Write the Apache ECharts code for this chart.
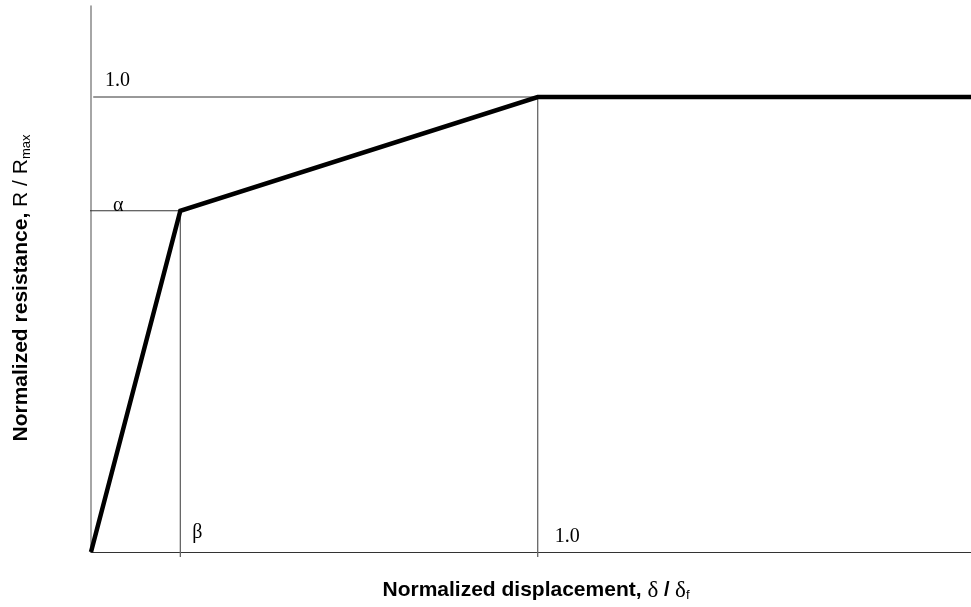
<!DOCTYPE html>
<html>
<head>
<meta charset="utf-8">
<script src="https://cdn.jsdelivr.net/npm/echarts@6/dist/echarts.min.js"></script>
<style>html,body{margin:0;padding:0;background:#fff}#c{width:971px;height:607px}</style>
</head>
<body>
<div id="c"></div>
<script>
// Data
const curveX = [0, 0.2, 1.0, 1.97];
const curveY = [0, 0.75, 1.0, 1.0];
const alphaVal = 0.75;
const betaVal = 0.2;
const refH1 = [[0.005, 1.0], [1.0, 1.0]];
const refHAlpha = [[-0.009, alphaVal], [betaVal, alphaVal]];
const refVBeta = [[betaVal, alphaVal], [betaVal, -0.011]];
const refV1 = [[1.0, 1.0], [1.0, -0.011]];
const labelTexts = ['1.0', 'α', 'β', '1.0'];
const labelPoints = [[0, 1.0], [0, alphaVal], [betaVal, 0], [1.0, 0]];

const labelOffsets = [[14, -16], [22, -5], [12, -19], [17, -15]];

const chart = echarts.init(document.getElementById('c'), null, {renderer: 'canvas'});
const serif = '"Liberation Serif", "DejaVu Serif", serif';
const sans = '"Liberation Sans", Arial, sans-serif';

function seg(pts, color, width) {
  return {
    type: 'line', data: pts, symbol: 'none', clip: false, silent: true,
    lineStyle: {color: color, width: width}, z: 1
  };
}

const option = {
  animation: false,
  grid: {left: 91, right: 0, top: 6, bottom: 54},
  xAxis: {
    type: 'value', min: 0, max: 1.97,
    axisLine: {show: true, lineStyle: {color: '#333', width: 1.2}},
    axisTick: {show: false}, axisLabel: {show: false}, splitLine: {show: false},
    name: '{b|Normalized displacement, }{s|δ }{b2|/ }{s|δ}{sub|f}',
    nameLocation: 'middle', nameGap: 27,
    nameTextStyle: {
      padding: [0, 0, 0, 10],
      rich: {
        b: {fontFamily: sans, fontWeight: 'bold', fontSize: 21, color: '#000'},
        b2: {fontFamily: sans, fontWeight: 'bold', fontSize: 20, color: '#000'},
        s: {fontFamily: serif, fontSize: 23, color: '#000'},
        sub: {fontFamily: sans, fontSize: 13, color: '#000', padding: [10, 0, 0, 0]}
      }
    }
  },
  yAxis: {
    type: 'value', min: 0, max: 1.2,
    axisLine: {show: true, lineStyle: {color: '#888', width: 1.5}},
    axisTick: {show: false}, axisLabel: {show: false}, splitLine: {show: false},
    name: '{b|Normalized resistance, }{r|R / R}{sub|max}',
    nameLocation: 'middle', nameGap: 58, nameRotate: 90,
    nameTextStyle: {
      padding: [0, 18, 0, 0],
      rich: {
        b: {fontFamily: sans, fontWeight: 'bold', fontSize: 21, color: '#000'},
        r: {fontFamily: sans, fontSize: 21, color: '#000'},
        sub: {fontFamily: sans, fontSize: 13, color: '#000', padding: [10, 0, 0, 0]}
      }
    }
  },
  series: [
    seg(refH1, '#333', 1),
    seg(refHAlpha, '#333', 1),
    seg(refVBeta, '#666', 1.3),
    seg(refV1, '#666', 1.3),
    {
      type: 'line', data: curveX.map((x, i) => [x, curveY[i]]), symbol: 'none', clip: false,
      lineStyle: {color: '#000', width: 4.5, join: 'miter'}, z: 5
    },
    {
      type: 'scatter', symbolSize: 0, silent: true, z: 6,
      itemStyle: {color: '#000', opacity: 1},
      data: labelPoints.map((p, i) => ({
        value: p,
        label: {
          show: true, formatter: labelTexts[i], position: 'inside',
          offset: labelOffsets[i], align: 'left', verticalAlign: 'middle',
          fontFamily: serif, fontSize: 20, color: '#000', opacity: 1,
          textBorderWidth: 0, textBorderColor: 'transparent'
        }
      }))
    }
  ]
};
chart.setOption(option);
</script>
</body>
</html>
